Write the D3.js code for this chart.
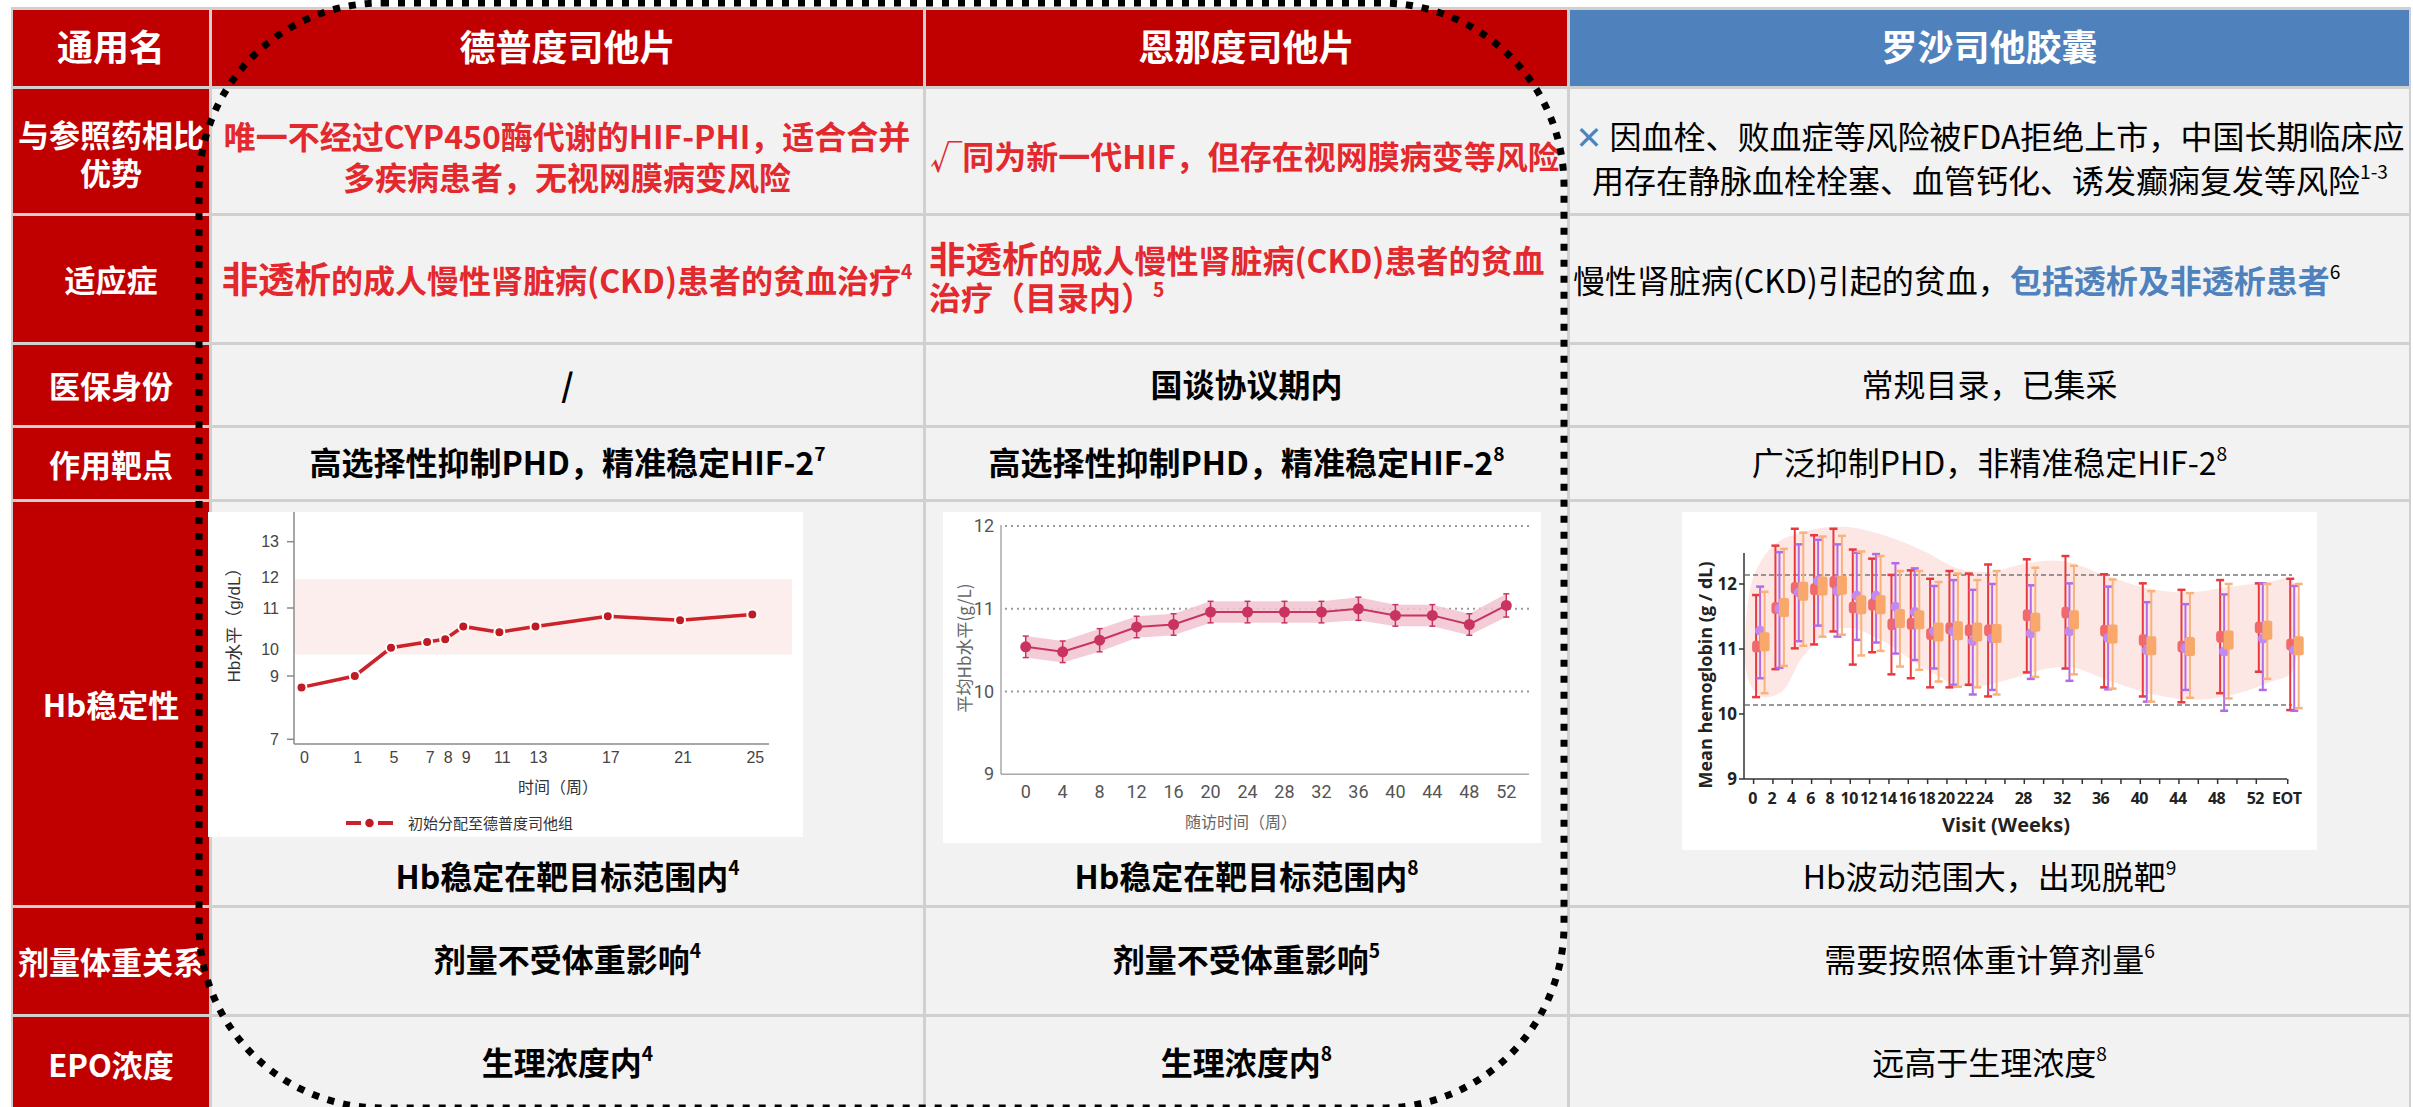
<!DOCTYPE html>
<html>
<head>
<meta charset="utf-8">
<script src="https://cdn.jsdelivr.net/npm/d3@7"></script>
<style>
  html, body { margin: 0; padding: 0; background: #fff; }
  svg { display: block; }
  text { font-family: "Noto Sans CJK SC", "Noto Sans", sans-serif; }
</style>
</head>
<body>
<svg id="board" width="2413" height="1107"></svg>
<script>
// ---------------- table content ----------------
// markup: {..} accent (blue bold), <..> enlarged, ^.. superscript to line end, \n line break
const headerRow = ["通用名", "德普度司他片", "恩那度司他片", "罗沙司他胶囊"];
const rowNames = ["与参照药相比\n优势", "适应症", "医保身份", "作用靶点", "Hb稳定性", "剂量体重关系", "EPO浓度"];
const advantageText = [
  "唯一不经过CYP450酶代谢的HIF-PHI，适合合并\n多疾病患者，无视网膜病变风险",
  "√同为新一代HIF，但存在视网膜病变等风险",
  "{✕} 因血栓、败血症等风险被FDA拒绝上市，中国长期临床应\n用存在静脉血栓栓塞、血管钙化、诱发癫痫复发等风险^1-3"
];
const indicationText = [
  "<非透析>的成人慢性肾脏病(CKD)患者的贫血治疗^4",
  "<非透析>的成人慢性肾脏病(CKD)患者的贫血\n治疗（目录内）^5",
  "慢性肾脏病(CKD)引起的贫血，{包括透析及非透析患者}^6"
];
const insuranceText = ["/", "国谈协议期内", "常规目录，已集采"];
const targetText = ["高选择性抑制PHD，精准稳定HIF-2^7", "高选择性抑制PHD，精准稳定HIF-2^8", "广泛抑制PHD，非精准稳定HIF-2^8"];
const hbCaption = ["Hb稳定在靶目标范围内^4", "Hb稳定在靶目标范围内^8", "Hb波动范围大，出现脱靶^9"];
const doseText = ["剂量不受体重影响^4", "剂量不受体重影响^5", "需要按照体重计算剂量^6"];
const epoText = ["生理浓度内^4", "生理浓度内^8", "远高于生理浓度^8"];

// ---------------- chart 1: 德普度司他 Hb over time ----------------
const c1Weeks = [0, 1, 5, 7, 8, 9, 11, 13, 17, 21, 25];
const c1Hb = [8.64, 9.0, 10.03, 10.17, 10.24, 10.55, 10.41, 10.55, 10.8, 10.7, 10.84];
const c1YLabels = [13, 12, 11, 10, 9, 7];
const c1YTickMarks = [13, 11, 9, 7];
const c1Target = [9.8, 11.95];
const c1Legend = "初始分配至德普度司他组";

// ---------------- chart 2: 恩那度司他 mean Hb ----------------
const c2Weeks = [0, 4, 8, 12, 16, 20, 24, 28, 32, 36, 40, 44, 48, 52];
const c2Hb = [10.54, 10.48, 10.62, 10.78, 10.81, 10.96, 10.96, 10.96, 10.96, 11.0, 10.92, 10.92, 10.81, 11.04];
const c2Err = [0.13, 0.13, 0.14, 0.13, 0.13, 0.13, 0.13, 0.13, 0.13, 0.14, 0.13, 0.13, 0.13, 0.14];
const c2YTicks = [9, 10, 11, 12];
const c2Grid = [10, 11, 12];

// ---------------- chart 3: 罗沙司他 mean Hb by visit ----------------
const c3Visits = ["0", "2", "4", "6", "8", "10", "12", "14", "16", "18", "20", "22", "24", "28", "32", "36", "40", "44", "48", "52", "EOT"];
const c3VisitPos = [0, 2, 4, 6, 8, 10, 12, 14, 16, 18, 20, 22, 24, 28, 32, 36, 40, 44, 48, 52, 55.25];
const c3RedMean = [11.04, 11.63, 11.94, 11.92, 12.03, 11.64, 11.68, 11.38, 11.39, 11.23, 11.32, 11.29, 11.29, 11.52, 11.56, 11.28, 11.14, 11.04, 11.19, 11.33, 11.07];
const c3RedHigh = [11.83, 12.59, 12.85, 12.75, 12.85, 12.53, 12.39, 12.14, 12.21, 12.08, 12.20, 12.16, 12.30, 12.38, 12.43, 12.15, 12.01, 11.91, 12.06, 12.01, 12.08];
const c3RedLow = [10.26, 10.69, 11.01, 11.07, 11.27, 10.76, 10.95, 10.61, 10.55, 10.41, 10.41, 10.45, 10.27, 10.64, 10.70, 10.41, 10.27, 10.18, 10.32, 10.65, 10.06];
const c3PurpleMean = [11.28, 11.62, 11.87, 12.05, 11.89, 11.82, 11.82, 11.65, 11.57, 11.27, 11.27, 11.12, 11.16, 11.24, 11.27, 11.17, 10.98, 11.01, 10.96, 11.16, 10.98];
const c3PurpleHigh = [11.96, 12.49, 12.61, 12.68, 12.61, 12.48, 12.46, 12.32, 12.24, 11.97, 12.06, 11.91, 12.00, 11.98, 12.01, 11.96, 11.72, 11.69, 11.84, 12.01, 11.97];
const c3PurpleLow = [10.55, 10.71, 11.12, 11.36, 11.19, 11.14, 11.10, 10.93, 10.83, 10.70, 10.45, 10.30, 10.37, 10.54, 10.51, 10.38, 10.19, 10.37, 10.05, 10.37, 10.05];
const c3OrangeMean = [11.11, 11.64, 11.89, 11.97, 11.98, 11.68, 11.68, 11.47, 11.45, 11.26, 11.28, 11.26, 11.24, 11.41, 11.45, 11.23, 11.05, 11.04, 11.14, 11.29, 11.05];
const c3OrangeHigh = [11.88, 12.54, 12.79, 12.73, 12.74, 12.50, 12.43, 12.20, 12.20, 12.03, 12.16, 12.06, 12.20, 12.25, 12.28, 12.07, 11.89, 11.86, 12.00, 12.00, 12.00];
const c3OrangeLow = [10.32, 10.74, 11.05, 11.19, 11.22, 10.90, 10.97, 10.73, 10.68, 10.50, 10.42, 10.41, 10.30, 10.57, 10.61, 10.39, 10.19, 10.25, 10.24, 10.54, 10.09];
const c3RefLines = [12.14, 10.14];
const c3YTicks = [9, 10, 11, 12];
// smooth envelope behind the error bars
const c3EnvWeeks = [-0.5, 0.3, 2.2, 5.1, 9.4, 13.6, 17.8, 21.2, 24.6, 28.4, 32.2, 36.4, 41, 45.2, 49.5, 53.7, 55.8];
const c3EnvHigh = [11.68, 12.19, 12.6, 12.8, 12.88, 12.75, 12.5, 12.24, 12.19, 12.32, 12.35, 12.14, 11.93, 11.87, 11.96, 12.04, 12.07];
const c3EnvLowWeeks = [55.8, 53.7, 49.5, 45.2, 41, 36.8, 33, 30.5, 26.2, 22, 17.8, 13.6, 10.2, 7.7, 5.1, 3, 0.9, -0.5];
const c3EnvLow = [10.65, 10.5, 10.29, 10.22, 10.32, 10.52, 10.72, 10.7, 10.52, 10.42, 10.7, 11.11, 11.32, 11.24, 10.86, 10.34, 10.27, 10.55];

// ---------------- styles ----------------
const RED = "#c00000", BLUE = "#4f81bd", ACCENT = "#4f81bd", TEXT_RED = "#e3292e", CELL = "#f2f2f2", RULE = "#d0d0d0";

const svg = d3.select("#board");

// rich text: centred on (x, y); lines separated by \n
function rich(g, str, o) {
  const lines = str.split("\n");
  const lh = o.lh || o.size * 1.25;
  const y0 = o.y - (lines.length - 1) * lh / 2;
  lines.forEach((line, i) => {
    const t = g.append("text")
      .attr("x", o.x)
      .attr("y", y0 + i * lh + o.size * 0.36)
      .attr("text-anchor", o.anchor || "middle")
      .attr("font-size", o.size)
      .attr("font-weight", o.weight || 400)
      .attr("fill", o.color || "#000");
    const parts = line.split(/(\{[^}]*\}|<[^>]*>|\^.*$)/).filter(s => s.length);
    parts.forEach(p => {
      if (p[0] === "{") {
        t.append("tspan").attr("fill", ACCENT).attr("font-weight", 700)
          .style("font-family", p.includes("✕") ? "'DejaVu Sans', sans-serif" : null)
          .text(p.slice(1, -1));
      } else if (p[0] === "<") {
        t.append("tspan").attr("font-size", o.size * 1.14).text(p.slice(1, -1));
      } else if (p[0] === "^") {
        t.append("tspan").attr("font-size", o.size * 0.6).attr("dy", -o.size * 0.42).text(p.slice(1));
      } else {
        t.append("tspan").text(p);
      }
    });
  });
}

// ---------------- table grid ----------------
const colX = [[13, 209], [212, 923], [926, 1567], [1570, 2409]];
const rowY = [[10, 86], [89, 213], [216, 342], [345, 425], [428, 499], [502, 905], [908, 1014], [1017, 1110]];

svg.append("rect").attr("x", 11).attr("y", 7).attr("width", 2400).attr("height", 1103).attr("fill", RULE);

const cells = [];
rowY.forEach((ry, r) => colX.forEach((cx, c) => cells.push({ r, c, x0: cx[0], x1: cx[1], y0: ry[0], y1: ry[1] })));
svg.append("g").selectAll("rect").data(cells).join("rect")
  .attr("x", d => d.x0).attr("y", d => d.y0)
  .attr("width", d => d.x1 - d.x0).attr("height", d => d.y1 - d.y0)
  .attr("fill", d => (d.r === 0 && d.c === 3) ? BLUE : (d.r === 0 || d.c === 0) ? RED : CELL);

const textG = svg.append("g");
const colMid = c => (colX[c][0] + colX[c][1]) / 2;
const rowMid = r => (rowY[r][0] + rowY[r][1]) / 2;

// header row
headerRow.forEach((h, c) => rich(textG, h, { x: colMid(c), y: 48, size: 36, weight: 700, color: "#fff" }));
// row labels
rowNames.forEach((n, i) => {
  const r = i + 1;
  const yc = r === 1 ? 155 : (r === 7 ? 1066 : rowMid(r) + 2);
  rich(textG, n, { x: colMid(0), y: yc, size: 31, weight: 700, color: "#fff", lh: 38 });
});

// advantage row
rich(textG, advantageText[0], { x: 567, y: 158, size: 32, weight: 700, color: TEXT_RED, lh: 41 });
rich(textG, advantageText[1], { x: 1245, y: 157, size: 32, weight: 700, color: TEXT_RED });
rich(textG, advantageText[2], { x: 1990, y: 159, size: 32, weight: 400, color: "#000", lh: 44 });
// indication row
rich(textG, indicationText[0], { x: 567, y: 281, size: 32, weight: 700, color: TEXT_RED });
rich(textG, indicationText[1], { x: 929, y: 280, size: 32, weight: 700, color: TEXT_RED, lh: 37, anchor: "start" });
rich(textG, indicationText[2], { x: 1573, y: 281, size: 32, weight: 400, color: "#000", anchor: "start" });

// plain rows
[[insuranceText, 385], [targetText, 463], [hbCaption, 877], [doseText, 960], [epoText, 1063]].forEach(([arr, yc]) => {
  arr.forEach((s, i) => rich(textG, s, { x: colMid(i + 1), y: yc, size: 32, weight: i < 2 ? 700 : 400, color: "#000" }));
});

// ---------------- chart 1 ----------------
(function () {
  const g = svg.append("g");
  const font = "'Liberation Sans', 'Noto Sans CJK SC', sans-serif";
  g.append("rect").attr("x", 208).attr("y", 512).attr("width", 595).attr("height", 325).attr("fill", "#fff");
  const x = d3.scaleLinear().domain([0, 1, 5, 25]).range([301.5, 354.8, 391, 752.3]);
  const y = d3.scaleLinear().domain([7, 9, 10, 11, 12, 13]).range([739.3, 676, 649, 608, 577.7, 541.7]);
  const axisX = 294, axisY = 744, plotRight = 792;

  g.append("rect").attr("x", axisX + 1).attr("y", y(c1Target[1]))
    .attr("width", plotRight - axisX - 1).attr("height", y(c1Target[0]) - y(c1Target[1]))
    .attr("fill", "#fbeeed");

  g.append("line").attr("x1", axisX).attr("x2", axisX).attr("y1", 512).attr("y2", axisY).attr("stroke", "#8a8a8a").attr("stroke-width", 1.5);
  g.append("line").attr("x1", axisX).attr("x2", 769).attr("y1", axisY).attr("y2", axisY).attr("stroke", "#8a8a8a").attr("stroke-width", 1.5);
  g.selectAll(".ytm").data(c1YTickMarks).join("line")
    .attr("x1", axisX - 7).attr("x2", axisX).attr("y1", d => y(d)).attr("y2", d => y(d))
    .attr("stroke", "#8a8a8a").attr("stroke-width", 1.5);
  g.selectAll(".ytl").data(c1YLabels).join("text")
    .attr("x", 279).attr("y", d => y(d) + 5.5).attr("text-anchor", "end")
    .attr("font-size", 16).attr("fill", "#444").style("font-family", font).text(d => d);
  g.selectAll(".xtl").data(c1Weeks).join("text")
    .attr("x", d => x(d) + 3).attr("y", 763).attr("text-anchor", "middle")
    .attr("font-size", 16).attr("fill", "#444").style("font-family", font).text(d => d);
  g.append("text").attr("x", 558).attr("y", 793).attr("text-anchor", "middle")
    .attr("font-size", 16).attr("fill", "#333").style("font-family", font).text("时间（周）");
  g.append("text").attr("transform", "translate(240,621) rotate(-90)").attr("text-anchor", "middle")
    .attr("font-size", 17).attr("fill", "#333").style("font-family", font).text("Hb水平（g/dL）");

  const line = d3.line().x((d, i) => x(c1Weeks[i])).y(d => y(d));
  g.append("path").datum(c1Hb).attr("d", line).attr("fill", "none").attr("stroke", "#cc2229").attr("stroke-width", 3.5);
  g.selectAll(".pt").data(c1Hb).join("circle")
    .attr("cx", (d, i) => x(c1Weeks[i])).attr("cy", d => y(d)).attr("r", 5)
    .attr("fill", "#c01a22").attr("stroke", "#fff").attr("stroke-width", 2);

  // legend
  g.append("line").attr("x1", 346).attr("x2", 393).attr("y1", 823).attr("y2", 823)
    .attr("stroke", "#cc2229").attr("stroke-width", 4).attr("stroke-dasharray", "15 17");
  g.append("circle").attr("cx", 369.5).attr("cy", 823).attr("r", 5).attr("fill", "#c01a22").attr("stroke", "#fff").attr("stroke-width", 1.5);
  g.append("text").attr("x", 408).attr("y", 829).attr("font-size", 15).attr("fill", "#333").style("font-family", font).text(c1Legend);
})();

// ---------------- chart 2 ----------------
(function () {
  const g = svg.append("g");
  const font = "'Liberation Sans Narrow', 'Roboto', 'Noto Sans CJK SC', sans-serif";
  const col = "#c8335f";
  g.append("rect").attr("x", 943).attr("y", 512).attr("width", 598).attr("height", 331).attr("fill", "#fff");
  const x = d3.scaleLinear().domain([0, 52]).range([1025.7, 1506.3]);
  const y = d3.scaleLinear().domain([9, 12]).range([774.3, 526]);

  g.selectAll(".grid").data(c2Grid).join("line")
    .attr("x1", 1005).attr("x2", 1533).attr("y1", d => y(d)).attr("y2", d => y(d))
    .attr("stroke", "#9a9a9a").attr("stroke-width", 2).attr("stroke-dasharray", "2 4");
  g.append("line").attr("x1", 1001).attr("x2", 1001).attr("y1", 525).attr("y2", 774.3).attr("stroke", "#a8a8a8").attr("stroke-width", 1.5);
  g.append("line").attr("x1", 1001).attr("x2", 1529).attr("y1", 774.3).attr("y2", 774.3).attr("stroke", "#a8a8a8").attr("stroke-width", 1.5);
  g.selectAll(".yl").data(c2YTicks).join("text")
    .attr("x", 994).attr("y", d => y(d) + 6).attr("text-anchor", "end")
    .attr("font-size", 18).attr("fill", "#555").style("font-family", font).text(d => d);
  g.selectAll(".xl").data(c2Weeks).join("text")
    .attr("x", d => x(d)).attr("y", 798).attr("text-anchor", "middle")
    .attr("font-size", 18).attr("fill", "#555").style("font-family", font).text(d => d);
  g.append("text").attr("x", 1241).attr("y", 828).attr("text-anchor", "middle")
    .attr("font-size", 16).attr("fill", "#666").text("随访时间（周）");
  g.append("text").attr("transform", "translate(971,648) rotate(-90)").attr("text-anchor", "middle")
    .attr("font-size", 17).attr("fill", "#666").text("平均Hb水平(g/L)");

  const area = d3.area().x((d, i) => x(c2Weeks[i])).y0((d, i) => y(d - c2Err[i])).y1((d, i) => y(d + c2Err[i]));
  g.append("path").datum(c2Hb).attr("d", area).attr("fill", "#f2c3d0").attr("opacity", 0.85);
  const line = d3.line().x((d, i) => x(c2Weeks[i])).y(d => y(d));
  g.append("path").datum(c2Hb).attr("d", line).attr("fill", "none").attr("stroke", col).attr("stroke-width", 2);
  const eb = g.selectAll(".eb").data(c2Hb).join("g");
  eb.append("line").attr("x1", (d, i) => x(c2Weeks[i])).attr("x2", (d, i) => x(c2Weeks[i]))
    .attr("y1", (d, i) => y(d + c2Err[i])).attr("y2", (d, i) => y(d - c2Err[i])).attr("stroke", col).attr("stroke-width", 1.5);
  [1, -1].forEach(s => eb.append("line")
    .attr("x1", (d, i) => x(c2Weeks[i]) - 3).attr("x2", (d, i) => x(c2Weeks[i]) + 3)
    .attr("y1", (d, i) => y(d + s * c2Err[i])).attr("y2", (d, i) => y(d + s * c2Err[i]))
    .attr("stroke", col).attr("stroke-width", 1.5));
  g.selectAll(".pt").data(c2Hb).join("circle")
    .attr("cx", (d, i) => x(c2Weeks[i])).attr("cy", d => y(d)).attr("r", 5.5).attr("fill", col);
})();

// ---------------- chart 3 ----------------
(function () {
  const g = svg.append("g");
  const font = "'Open Sans', 'Noto Sans', sans-serif";
  g.append("rect").attr("x", 1682).attr("y", 512).attr("width", 635).attr("height", 338).attr("fill", "#fff");
  const x = d3.scaleLinear().domain([0, 52]).range([1752.6, 2255.3]);
  const y = d3.scaleLinear().domain([9, 12]).range([779, 584]);
  const axisX = 1744, axisY = 779;

  // envelope
  const ring = c3EnvWeeks.map((w, i) => [x(w), y(c3EnvHigh[i])])
    .concat(c3EnvLowWeeks.map((w, i) => [x(w), y(c3EnvLow[i])]));
  g.append("path").attr("d", d3.line().curve(d3.curveCatmullRomClosed.alpha(0.5))(ring))
    .attr("fill", "#fde4e2").attr("opacity", 0.9);

  g.selectAll(".ref").data(c3RefLines).join("line")
    .attr("x1", 1745).attr("x2", 2292).attr("y1", d => y(d)).attr("y2", d => y(d))
    .attr("stroke", "#777").attr("stroke-width", 1.5).attr("stroke-dasharray", "5 3");

  g.append("line").attr("x1", axisX).attr("x2", axisX).attr("y1", 553).attr("y2", axisY).attr("stroke", "#333").attr("stroke-width", 1.5);
  g.append("line").attr("x1", axisX).attr("x2", 2287).attr("y1", axisY).attr("y2", axisY).attr("stroke", "#333").attr("stroke-width", 1.5);
  g.selectAll(".ytm").data(c3YTicks).join("line")
    .attr("x1", axisX - 5).attr("x2", axisX).attr("y1", d => y(d)).attr("y2", d => y(d)).attr("stroke", "#333").attr("stroke-width", 1.5);
  g.selectAll(".yl").data(c3YTicks).join("text")
    .attr("x", 1737).attr("y", d => y(d) + 6).attr("text-anchor", "end")
    .attr("font-size", 17).attr("font-weight", 700).attr("fill", "#222").style("font-family", font).text(d => d);
  const tickWeeks = d3.range(0, 53, 2).concat([c3VisitPos[c3VisitPos.length - 1]]);
  g.selectAll(".xtm").data(tickWeeks).join("line")
    .attr("x1", d => x(d) + 1).attr("x2", d => x(d) + 1).attr("y1", axisY).attr("y2", axisY + 5)
    .attr("stroke", "#333").attr("stroke-width", 1.5);
  g.selectAll(".xl").data(c3Visits).join("text")
    .attr("x", (d, i) => x(c3VisitPos[i])).attr("y", 804).attr("text-anchor", "middle")
    .attr("font-size", 16).attr("font-weight", 700).attr("fill", "#222")
    .attr("letter-spacing", -0.5).style("font-family", font).text(d => d);
  g.append("text").attr("x", 2006).attr("y", 832).attr("text-anchor", "middle")
    .attr("font-size", 20).attr("font-weight", 700).attr("fill", "#222").style("font-family", font).text("Visit (Weeks)");
  g.append("text").attr("transform", "translate(1712,675) rotate(-90)").attr("text-anchor", "middle")
    .attr("font-size", 18).attr("font-weight", 700).attr("fill", "#222").style("font-family", font).text("Mean hemoglobin (g / dL)");

  const series = [
    { mean: c3RedMean, lo: c3RedLow, hi: c3RedHigh, bar: "#e8393e", fill: "#f06a6c", dx: 3.5, shape: "pill" },
    { mean: c3PurpleMean, lo: c3PurpleLow, hi: c3PurpleHigh, bar: "#b36be8", fill: "#c08af2", dx: 7.5, shape: "dot" },
    { mean: c3OrangeMean, lo: c3OrangeLow, hi: c3OrangeHigh, bar: "#f9b27c", fill: "#f8a86a", dx: 12, shape: "box" }
  ];
  series.forEach(s => {
    const sg = g.append("g");
    const px = i => x(c3VisitPos[i]) + s.dx;
    const items = s.mean.map((m, i) => ({ i, m, lo: s.lo[i], hi: s.hi[i] }));
    sg.selectAll(".v").data(items).join("line")
      .attr("x1", d => px(d.i)).attr("x2", d => px(d.i)).attr("y1", d => y(d.hi)).attr("y2", d => y(d.lo))
      .attr("stroke", s.bar).attr("stroke-width", 2);
    ["hi", "lo"].forEach(k => sg.selectAll(".c" + k).data(items).join("line")
      .attr("x1", d => px(d.i) - 4).attr("x2", d => px(d.i) + 4).attr("y1", d => y(d[k])).attr("y2", d => y(d[k]))
      .attr("stroke", s.bar).attr("stroke-width", 2.5));
    if (s.shape === "dot") {
      sg.selectAll(".m").data(items).join("circle")
        .attr("cx", d => px(d.i)).attr("cy", d => y(d.m)).attr("r", 5).attr("fill", s.fill);
    } else {
      const w = s.shape === "box" ? 10 : 8, h = s.shape === "box" ? 19 : 12;
      sg.selectAll(".m").data(items).join("rect")
        .attr("x", d => px(d.i) - w / 2).attr("y", d => y(d.m) - h / 2)
        .attr("width", w).attr("height", h).attr("rx", s.shape === "box" ? 2 : 3.5).attr("fill", s.fill);
    }
  });
})();

// ---------------- highlight outline around the two featured columns ----------------
svg.append("rect")
  .attr("x", 199).attr("y", 3).attr("width", 1365).attr("height", 1105)
  .attr("rx", 183).attr("ry", 183)
  .attr("fill", "none").attr("stroke", "#000").attr("stroke-width", 7)
  .attr("stroke-dasharray", "7 9");
</script>
</body>
</html>
